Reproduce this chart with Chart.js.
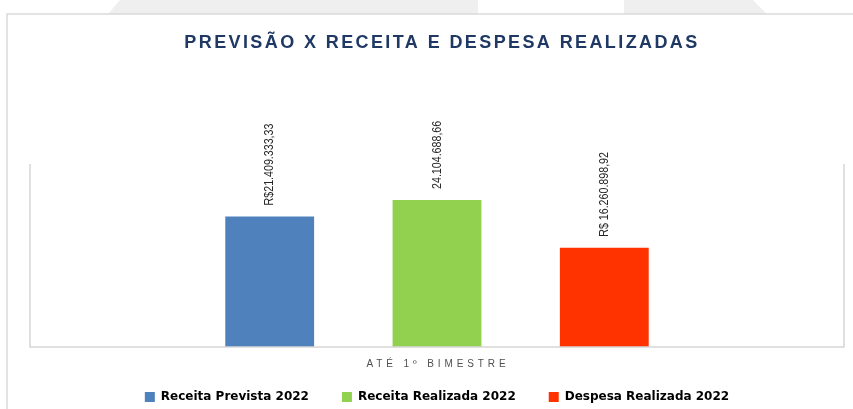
<!DOCTYPE html>
<html lang="pt-BR">
<head>
<meta charset="utf-8">
<title>Previsão x Receita e Despesa Realizadas</title>
<script src="https://cdn.jsdelivr.net/npm/chart.js@4/dist/chart.umd.min.js"></script>
<style>
  html, body { margin: 0; padding: 0; background: #fff; }
  #wrap { position: relative; width: 853px; height: 409px; }
</style>
</head>
<body>
<div id="wrap"><canvas id="chart"></canvas></div>
<script>
// --- DATA ---
const chartTitle = "PREVISÃO X RECEITA E DESPESA REALIZADAS";
const categories = ["ATÉ 1º BIMESTRE"];
const seriesNames = ["Receita Prevista 2022", "Receita Realizada 2022", "Despesa Realizada 2022"];
const seriesValues = [21409333.33, 24104688.66, 16260898.92];
const valueLabels = ["R$21.409.333,33", "24.104.688,66", "R$ 16.260.898,92"];
const seriesColors = ["#4f81bd", "#92d050", "#ff3300"];
const yMax = 30000000;

const sansFont = "'Liberation Sans', Arial, sans-serif";

// --- PAGE FRAME (grey tabs on top + outer border) ---
const backdrop = {
    id: "backdrop",
    beforeDraw(chart) {
        const c = chart.ctx;
        c.save();
        c.fillStyle = "#efefef";
        c.beginPath();
        c.moveTo(108, 14); c.lineTo(120, 0); c.lineTo(478, 0); c.lineTo(478, 14); c.closePath(); c.fill();
        c.beginPath();
        c.moveTo(624, 14); c.lineTo(624, 0); c.lineTo(753, 0); c.lineTo(767, 14); c.closePath(); c.fill();
        c.strokeStyle = "#dadada"; c.lineWidth = 1.5;
        c.beginPath();
        c.moveTo(7, 409); c.lineTo(7, 14); c.lineTo(853, 14);
        c.stroke();
        c.restore();
    }
};

// --- PLOT BOX, TITLE, AXIS LABEL, VALUE LABELS ---
const decor = {
    id: "decor",
    afterDatasetsDraw(chart) {
        const c = chart.ctx, a = chart.chartArea;
        c.save();
        c.strokeStyle = "#d6d6d6"; c.lineWidth = 1.5;
        c.beginPath();
        c.moveTo(a.left, a.top); c.lineTo(a.left, a.bottom); c.lineTo(a.right, a.bottom); c.lineTo(a.right, a.top);
        c.stroke();

        c.fillStyle = "#1f3864";
        c.font = "bold 18px " + sansFont;
        c.letterSpacing = "2.4px";
        c.textAlign = "center"; c.textBaseline = "middle";
        c.fillText(chartTitle, 442, 43);

        c.fillStyle = "#505050";
        c.font = "10px " + sansFont;
        c.letterSpacing = "3.9px";
        c.fillText(categories[0], chart.scales.x.getPixelForTick(0) + 1, 364);

        c.letterSpacing = "0px";
        c.fillStyle = "#262626";
        c.font = "13px " + sansFont;
        c.textAlign = "left";
        chart.data.datasets.forEach((ds, i) => {
            const bar = chart.getDatasetMeta(i).data[0];
            c.save();
            c.translate(bar.x, bar.y - 11);
            c.rotate(-Math.PI / 2);
            c.scale(0.82, 1); // narrow, Calibri-like labels
            c.fillText(valueLabels[i], 0, 0);
            c.restore();
        });
        c.restore();
    }
};

new Chart(document.getElementById("chart"), {
    type: "bar",
    data: {
        labels: categories,
        datasets: seriesNames.map((n, i) => ({
            label: n,
            data: [seriesValues[i]],
            backgroundColor: seriesColors[i],
            borderWidth: 0,
            categoryPercentage: 0.6166,
            barPercentage: 0.531
        }))
    },
    options: {
        responsive: true,
        maintainAspectRatio: false,
        animation: false,
        layout: { padding: { left: 30, right: 9, top: 164, bottom: -4 } },
        scales: {
            x: {
                display: true,
                grid: { display: false },
                border: { display: false },
                ticks: { display: false },
                afterFit: s => { s.height = 11; }
            },
            y: { display: false, min: 0, max: yMax }
        },
        plugins: {
            title: { display: false },
            tooltip: { enabled: false },
            legend: {
                position: "bottom",
                labels: {
                    boxWidth: 10, boxHeight: 10, padding: 33,
                    color: "#000",
                    font: { size: 12, weight: "bold", family: "'DejaVu Sans', Verdana, sans-serif" }
                }
            }
        }
    },
    plugins: [backdrop, decor]
});
</script>
</body>
</html>
